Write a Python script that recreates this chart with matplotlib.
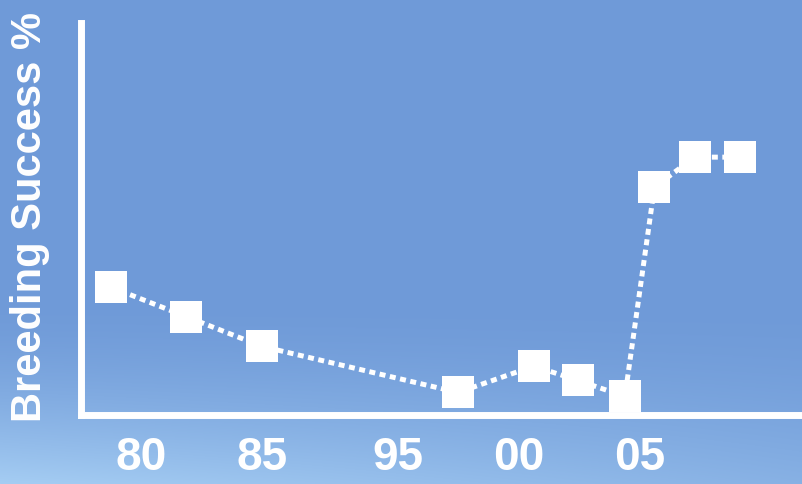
import numpy as np
import matplotlib.pyplot as plt

# data (x in axis units, 24.2 px per unit; y in %)
x_pos = [78.74, 81.86, 85.0, 93.10, 96.24, 98.06, 100.0, 101.22, 102.89, 104.75]
success = [32.4, 24.9, 17.3, 5.6, 12.3, 8.65, 4.6, 57.8, 65.4, 65.4]
tick_pos = [80, 85, 90.62, 95.62, 100.62]
tick_labels = ["80", "85", "95", "00", "05"]

plt.rcParams['font.family'] = ['Liberation Sans', 'DejaVu Sans']
plt.rcParams['font.weight'] = 'bold'

fig = plt.figure(figsize=(8.03, 4.85), dpi=100)

# background gradient
bg = fig.add_axes([0, 0, 1, 1], zorder=-10)
bg.axis('off')
h, w = 485, 803
yy = np.linspace(0, 1, h)[:, None]
xx = np.linspace(0, 1, w)[None, :]
t = np.clip((yy - 0.62) / 0.38, 0, 1) ** 1.6 * (1 - 0.55 * xx)
top = np.array([111, 154, 216]) / 255
bot = np.array([165, 205, 243]) / 255
img = top[None, None, :] * (1 - t[..., None]) + bot[None, None, :] * t[..., None]
bg.imshow(img, aspect='auto', extent=[0, 1, 0, 1])
bg.set_xlim(0, 1)
bg.set_ylim(0, 1)

ax = fig.add_axes([81 / 803, 1 - 415.5 / 485, 1 - 81 / 803, (415.5 - 24) / 485])
ax.patch.set_alpha(0)
ax.plot(x_pos, success, color='white', lw=3.6, linestyle=(0, (1.2, 0.9)),
        marker='s', markersize=23, markeredgewidth=0, clip_on=False, zorder=3)
ax.set_xlim(77.52, 107.36)
ax.set_ylim(0, 100 * (415.5 - 24) / (415.5 - 22))
for s in ['top', 'right']:
    ax.spines[s].set_visible(False)
for s in ['left', 'bottom']:
    ax.spines[s].set_color('white')
    ax.spines[s].set_linewidth(5)
    ax.spines[s].set_zorder(4)
ax.set_yticks([])
ax.set_xticks(tick_pos)
ax.set_xticklabels(tick_labels)
ax.tick_params(axis='x', length=0, pad=15, labelsize=33, labelcolor='white')

fig.text(30 / 803, 1 - 217 / 485, "Breeding Success %", rotation=90,
         ha='center', va='center', fontsize=30, fontweight='bold', color='white')

plt.savefig("out.png", dpi=100)
